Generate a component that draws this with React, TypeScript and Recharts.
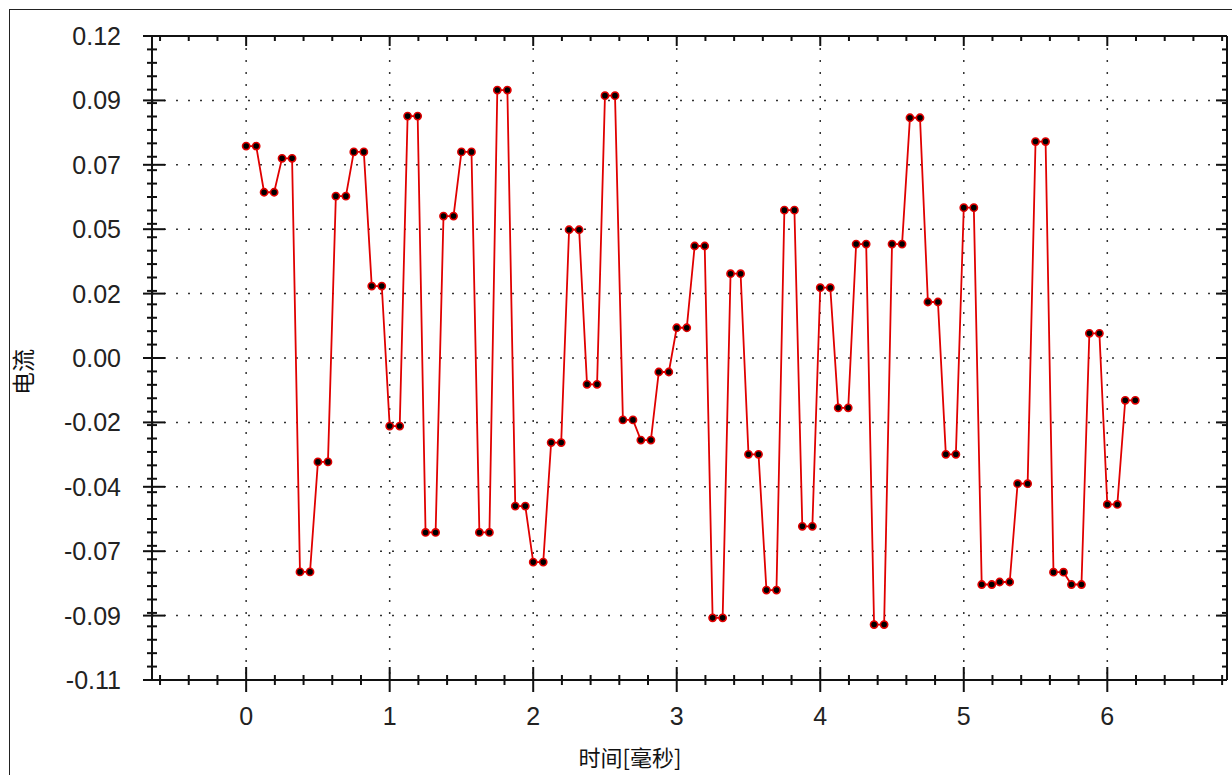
import React from 'react';
import { LineChart, Line, XAxis, YAxis, CartesianGrid } from 'recharts';

// sample pairs: each level is held for two samples
const sampleStart = [
    0, 0.125, 0.25, 0.375, 0.5, 0.625, 0.75, 0.875, 1, 1.125,
    1.25, 1.375, 1.5, 1.625, 1.75, 1.875, 2, 2.125, 2.25, 2.375,
    2.5, 2.625, 2.75, 2.875, 3, 3.125, 3.25, 3.375, 3.5, 3.625,
    3.75, 3.875, 4, 4.125, 4.25, 4.375, 4.5, 4.625, 4.75, 4.875,
    5, 5.125, 5.25, 5.375, 5.5, 5.625, 5.75, 5.875, 6, 6.125,
];
const sampleEnd = [
    0.07, 0.195, 0.32, 0.445, 0.57, 0.695, 0.82, 0.945, 1.07, 1.195,
    1.32, 1.445, 1.57, 1.695, 1.82, 1.945, 2.07, 2.195, 2.32, 2.445,
    2.57, 2.695, 2.82, 2.945, 3.07, 3.195, 3.32, 3.445, 3.57, 3.695,
    3.82, 3.945, 4.07, 4.195, 4.32, 4.445, 4.57, 4.695, 4.82, 4.945,
    5.07, 5.195, 5.32, 5.445, 5.57, 5.695, 5.82, 5.945, 6.07, 6.195,
];
const current = [
    0.0807, 0.0642, 0.0763, -0.0714, -0.0321, 0.0628, 0.0786, 0.0307, -0.0193, 0.0914,
    -0.0573, 0.0557, 0.0786, -0.0573, 0.1007, -0.0479, -0.0679, -0.0252, 0.0508, -0.0044,
    0.0987, -0.0171, -0.0243, 0.0, 0.0158, 0.045, -0.0878, 0.0351, -0.0294, -0.0779,
    0.0578, -0.0551, 0.0301, -0.0128, 0.0457, -0.0902, 0.0457, 0.0908, 0.025, -0.0294,
    0.0587, -0.0759, -0.075, -0.0399, 0.0823, -0.0715, -0.0759, 0.0138, -0.0473, -0.0101,
];

const xMajor = [0, 1, 2, 3, 4, 5, 6];
const yMajor = [0.12, 0.097, 0.074, 0.051, 0.028, 0.005, -0.018, -0.041, -0.064, -0.087, -0.11];
const yLabels = ['0.12', '0.09', '0.07', '0.05', '0.02', '0.00', '-0.02', '-0.04', '-0.07', '-0.09', '-0.11'];

const X_DOMAIN: [number, number] = [-0.656, 6.834];
const Y_DOMAIN: [number, number] = [-0.11, 0.12];

const isMajorX = (v: number) => xMajor.some((m) => Math.abs(m - v) < 1e-6);
const majorYIndex = (v: number) => yMajor.findIndex((m) => Math.abs(m - v) < 1e-6);

const xMinor = Array.from({ length: 38 }, (_, k) => Math.round((-0.6 + 0.2 * k) * 1000) / 1000).filter(
    (v) => !isMajorX(v)
);
const yMinor = Array.from({ length: 49 }, (_, k) => -0.11 + (k * 0.23) / 48).filter((v) => majorYIndex(v) < 0);

const xTicks = [...xMajor, ...xMinor];
const yTicks = [...yMajor, ...yMinor];

const data = sampleStart.flatMap((t, i) => [
    { t, v: current[i] },
    { t: sampleEnd[i], v: current[i] },
]);

const FONT = "'Liberation Sans', Arial, sans-serif";
const CJK = "'Noto Sans CJK SC', 'Noto Sans', sans-serif";
const INK = '#111';

function BottomTick(props: any) {
    const { x, y, payload } = props;
    const major = isMajorX(payload.value);
    return (
        <g>
            <line x1={x} x2={x} y1={major ? y - 13 : y - 5} y2={major ? y + 12 : y + 5} stroke={INK} strokeWidth={2} />
            {major && (
                <text x={x} y={y + 45} textAnchor="middle" fontSize={25} fontFamily={FONT} fill="#222">
                    {Math.round(payload.value)}
                </text>
            )}
        </g>
    );
}

function TopTick(props: any) {
    const { x, y, payload } = props;
    const major = isMajorX(payload.value);
    return <line x1={x} x2={x} y1={y} y2={major ? y + 10 : y + 5} stroke={INK} strokeWidth={2} />;
}

function LeftTick(props: any) {
    const { x, y, payload } = props;
    const idx = majorYIndex(payload.value);
    const major = idx >= 0;
    return (
        <g>
            <line x1={major ? x - 9 : x - 5} x2={major ? x + 13 : x + 5} y1={y} y2={y} stroke={INK} strokeWidth={2} />
            {major && (
                <text x={x - 31} y={y + 9} textAnchor="end" fontSize={25} fontFamily={FONT} fill="#222">
                    {yLabels[idx]}
                </text>
            )}
        </g>
    );
}

function RightTick(props: any) {
    const { x, y, payload } = props;
    const major = majorYIndex(payload.value) >= 0;
    return <line x1={major ? x - 11 : x - 5} x2={x} y1={y} y2={y} stroke={INK} strokeWidth={2} />;
}

export default function App() {
    return (
        <div style={{ position: 'absolute', left: 0, top: 0, width: 1232, height: 775, overflow: 'hidden', background: '#fff' }}>
            <LineChart width={1232} height={775} data={data} margin={{ top: 31, right: 0, bottom: 35, left: 92 }}>
                <CartesianGrid
                    xAxisId="x"
                    yAxisId="y"
                    horizontalValues={yMajor}
                    verticalValues={xMajor}
                    stroke="#333"
                    strokeWidth={1.5}
                    strokeDasharray="2 10"
                />
                <XAxis
                    xAxisId="x"
                    dataKey="t"
                    type="number"
                    orientation="bottom"
                    domain={X_DOMAIN}
                    allowDataOverflow
                    ticks={xTicks}
                    interval={0}
                    height={60}
                    tickSize={0}
                    tickMargin={0}
                    tickLine={false}
                    tick={<BottomTick />}
                    axisLine={{ stroke: INK, strokeWidth: 2 }}
                />
                <XAxis
                    xAxisId="xt"
                    dataKey="t"
                    type="number"
                    orientation="top"
                    domain={X_DOMAIN}
                    allowDataOverflow
                    ticks={xTicks}
                    interval={0}
                    height={5}
                    tickSize={0}
                    tickMargin={0}
                    tickLine={false}
                    tick={<TopTick />}
                    axisLine={{ stroke: INK, strokeWidth: 2 }}
                />
                <YAxis
                    yAxisId="y"
                    orientation="left"
                    type="number"
                    domain={Y_DOMAIN}
                    allowDataOverflow
                    ticks={yTicks}
                    interval={0}
                    width={60}
                    tickSize={0}
                    tickMargin={0}
                    tickLine={false}
                    tick={<LeftTick />}
                    axisLine={{ stroke: INK, strokeWidth: 2 }}
                />
                <YAxis
                    yAxisId="yr"
                    orientation="right"
                    type="number"
                    domain={Y_DOMAIN}
                    allowDataOverflow
                    ticks={yTicks}
                    interval={0}
                    width={5}
                    tickSize={0}
                    tickMargin={0}
                    tickLine={false}
                    tick={<RightTick />}
                    axisLine={{ stroke: INK, strokeWidth: 2 }}
                />
                <Line
                    xAxisId="x"
                    yAxisId="y"
                    type="linear"
                    dataKey="v"
                    stroke="#e00000"
                    strokeWidth={1.8}
                    dot={{ r: 3.6, fill: '#000', stroke: '#e00000', strokeWidth: 1.6 }}
                    activeDot={false}
                    isAnimationActive={false}
                />
            </LineChart>
            <svg
                width={1232}
                height={775}
                style={{ position: 'absolute', left: 0, top: 0, pointerEvents: 'none' }}
            >
                <rect x={9.5} y={9.5} width={1240} height={800} fill="none" stroke="#222" strokeWidth={1} />
                <text x={630} y={766} textAnchor="middle" fontSize={22} fontFamily={CJK} fill="#111">
                    时间[毫秒]
                </text>
                <text
                    x={22}
                    y={372}
                    textAnchor="middle"
                    dominantBaseline="central"
                    fontSize={23}
                    fontFamily={CJK}
                    fill="#111"
                    transform="rotate(-90 22 372)"
                >
                    电流
                </text>
            </svg>
        </div>
    );
}
